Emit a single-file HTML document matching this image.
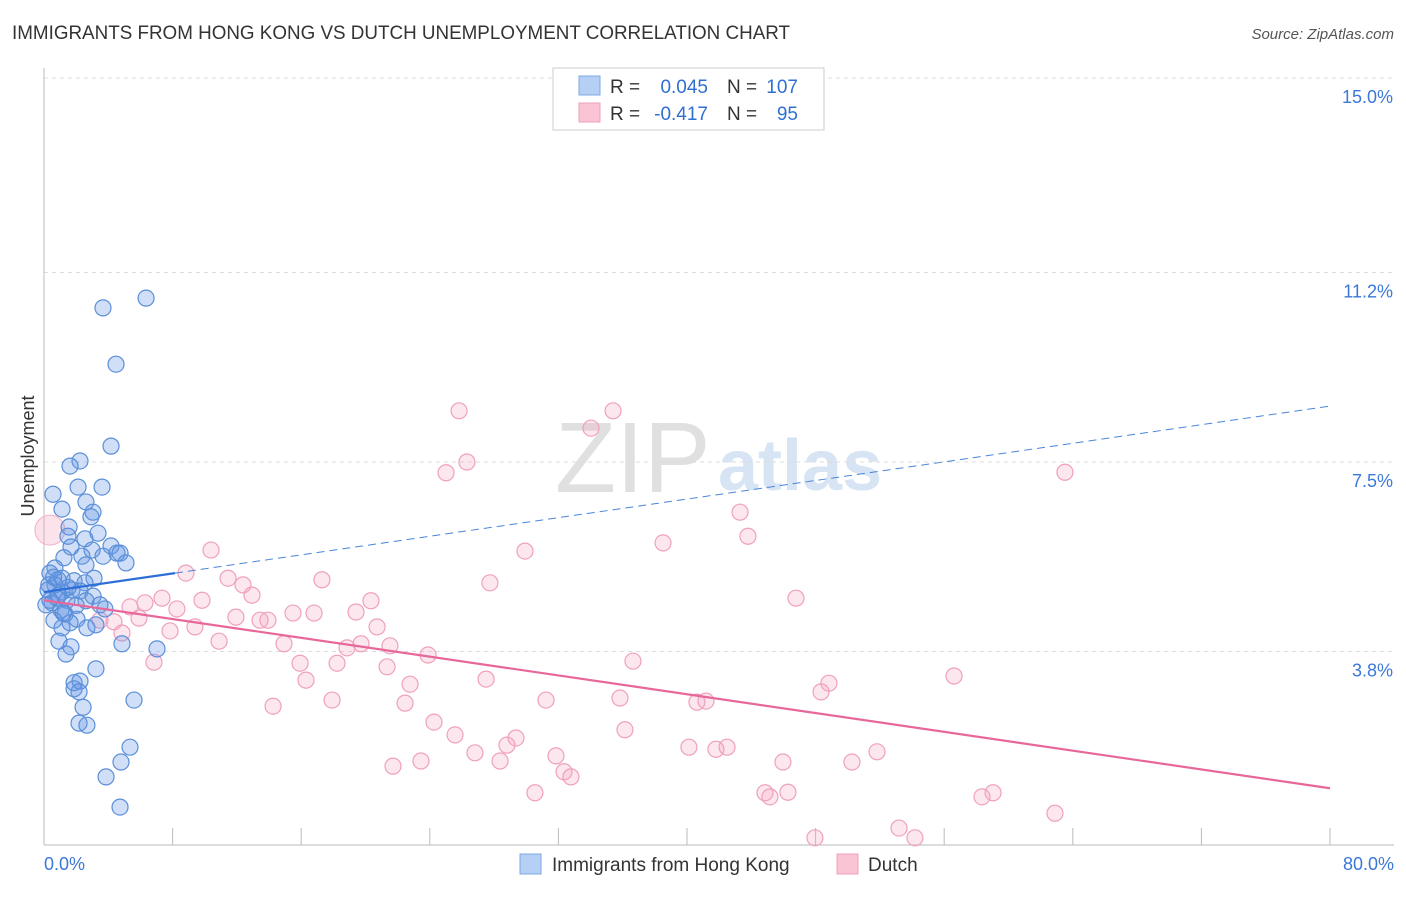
<!DOCTYPE html>
<html><head><meta charset="utf-8"><style>
body{margin:0;background:#fff;font-family:"Liberation Sans",sans-serif;}
svg text{font-family:"Liberation Sans",sans-serif;}
</style></head><body>
<svg id="chart" width="1406" height="892" viewBox="0 0 1406 892" xmlns="http://www.w3.org/2000/svg">
<text x="12" y="39" font-size="19" fill="#333" textLength="778" lengthAdjust="spacingAndGlyphs">IMMIGRANTS FROM HONG KONG VS DUTCH UNEMPLOYMENT CORRELATION CHART</text>
<text x="1394" y="39" font-size="15" fill="#555" font-style="italic" text-anchor="end">Source: ZipAtlas.com</text>
<text x="555" y="492" font-size="100" fill="#e0e0e0" font-family="Liberation Serif">ZIP</text>
<text x="718" y="490" font-size="72" fill="#d6e4f4" font-weight="bold">atlas</text>
<g id="grid"></g>
<g id="axes"></g>
<g id="pts"></g>
<g id="lines"></g>
<g>
<rect x="553" y="68" width="271" height="62" fill="#fff" stroke="#ccc"/>
<rect x="579" y="76" width="21" height="19" fill="#b6d0f5" stroke="#7fa8e0"/>
<rect x="579" y="103" width="21" height="19" fill="#fac4d4" stroke="#eea0ba"/>
<text x="610" y="93" font-size="19" fill="#333">R =</text>
<text x="708" y="93" font-size="19" fill="#2f6fd0" text-anchor="end">0.045</text>
<text x="727" y="93" font-size="19" fill="#333">N =</text>
<text x="798" y="93" font-size="19" fill="#2f6fd0" text-anchor="end">107</text>
<text x="610" y="120" font-size="19" fill="#333">R =</text>
<text x="708" y="120" font-size="19" fill="#2f6fd0" text-anchor="end">-0.417</text>
<text x="727" y="120" font-size="19" fill="#333">N =</text>
<text x="798" y="120" font-size="19" fill="#2f6fd0" text-anchor="end">95</text>
</g>
<g>
<rect x="520" y="854" width="21" height="20" fill="#b6d0f5" stroke="#7fa8e0"/>
<text x="552" y="871" font-size="19" fill="#333">Immigrants from Hong Kong</text>
<rect x="837" y="854" width="21" height="20" fill="#fac4d4" stroke="#eea0ba"/>
<text x="868" y="871" font-size="19" fill="#333">Dutch</text>
</g>
<text transform="translate(34,456) rotate(-90)" font-size="18" fill="#333" text-anchor="middle">Unemployment</text>
</svg>
<script>
const yTicks=[15.0,11.2,7.5,3.8];
const yTickLabels=["15.0%","11.2%","7.5%","3.8%"];
const xTickLabels=["0.0%","80.0%"];
const blueX=[6.35,3.67,4.48,4.17,2.24,1.62,0.56,3.61,2.12,2.61,1.12,3.05,2.92,1.56,3.36,1.49,2.55,4.17,2.99,1.68,1.24,2.36,3.67,4.54,4.73,5.10,2.61,0.68,0.37,1.12,3.11,1.87,2.55,0.68,0.25,1.12,1.74,2.24,3.05,0.81,1.43,2.61,3.48,3.79,0.5,1.06,1.31,2.05,1.62,2.67,1.12,3.23,0.93,1.68,1.37,4.85,7.03,3.23,1.87,2.24,1.87,2.18,5.6,2.43,2.18,2.67,5.35,4.79,3.86,4.73,0.37,0.12,0.62,0.87,0.3,0.9,1.5,0.6,2.0,1.2];
const blueY=[10.70,10.51,9.41,7.81,7.52,7.42,6.87,7.01,7.01,6.72,6.58,6.52,6.43,6.23,6.11,6.05,6.0,5.86,5.78,5.84,5.63,5.66,5.66,5.72,5.72,5.53,5.49,5.43,5.33,5.23,5.23,5.18,5.14,5.10,5.0,4.96,5.0,4.98,4.88,4.84,4.80,4.79,4.71,4.63,4.75,4.61,4.53,4.43,4.36,4.26,4.26,4.32,4.0,3.89,3.75,3.95,3.85,3.46,3.19,3.22,3.07,3.01,2.85,2.71,2.40,2.36,1.93,1.64,1.35,0.76,4.80,4.71,4.41,5.2,5.1,4.9,5.05,5.25,4.7,4.55];
const pinkX=[25.82,35.40,34.03,26.31,25.01,63.51,43.30,43.79,38.51,29.92,10.39,8.83,11.45,12.38,17.29,27.74,12.94,7.34,9.83,6.28,5.35,8.27,20.34,46.78,19.41,15.49,16.80,11.94,13.44,13.93,5.91,4.35,3.48,7.84,9.39,20.72,4.85,10.89,14.93,19.72,18.85,21.52,23.89,6.84,15.93,18.23,21.34,36.64,16.30,27.50,22.77,48.83,56.61,48.34,14.25,17.92,22.46,31.23,35.83,40.62,41.18,24.26,36.14,25.57,29.36,28.80,40.12,41.80,42.49,51.82,26.81,31.85,28.37,45.97,50.26,21.71,23.45,32.35,32.78,30.54,44.85,46.28,45.16,58.35,59.04,62.89,47.96,53.19,54.18];
const pinkY=[8.50,8.50,8.16,7.50,7.29,7.30,6.52,6.05,5.92,5.76,5.78,5.33,5.23,5.10,5.20,5.14,4.90,4.84,4.80,4.75,4.67,4.63,4.79,4.84,4.57,4.55,4.55,4.47,4.41,4.41,4.45,4.38,4.41,4.20,4.28,4.28,4.16,4.00,3.95,3.95,3.87,3.91,3.73,3.59,3.57,3.57,3.50,3.61,3.24,3.26,3.16,3.18,3.32,3.01,2.73,2.85,2.79,2.85,2.89,2.81,2.83,2.42,2.27,2.17,2.11,1.97,1.93,1.89,1.93,1.84,1.82,1.76,1.66,1.64,1.64,1.56,1.66,1.45,1.35,1.04,1.04,1.05,0.96,0.96,1.04,0.64,0.16,0.35,0.16];
const bigPink=[0.37,6.17];
const blueFit=[4.96,0.0454];
const pinkFit=[4.80,-0.0459];
const NS="http://www.w3.org/2000/svg";
const xs=v=>44+v*16.075, ys=v=>78+(15-v)*51.2;
function mk(t,a,p){const e=document.createElementNS(NS,t);for(const k in a)e.setAttribute(k,a[k]);document.getElementById(p).appendChild(e);return e;}
yTicks.forEach((t,i)=>{
 const l=mk('line',{x1:44,x2:1394,y1:ys(t),y2:ys(t),stroke:'#ddd','stroke-dasharray':'4,4'},'grid');
 
 
 const tx=mk('text',{x:1393,y:ys(t)+25,'font-size':18,fill:'#3b78d8','text-anchor':'end'},'axes');
 tx.textContent=yTickLabels[i];
 
 
});
mk('line',{x1:44,x2:44,y1:68,y2:845,stroke:'#bbb'},'axes');
mk('line',{x1:44,x2:1394,y1:845,y2:845,stroke:'#bbb'},'axes');
for(let i=1;i<=10;i++){const t=mk('line',{x1:xs(i*8),x2:xs(i*8),y1:828,y2:845,stroke:'#bbb'},'axes');
 
 }
[[0,'start',44],[80,'end',1394]].forEach((d,i)=>{const t=mk('text',{x:d[2],y:870,'font-size':18,fill:'#3b78d8','text-anchor':d[1]},'axes');t.textContent=xTickLabels[i];
 
 });
const bp=mk('circle',{cx:xs(bigPink[0]),cy:ys(bigPink[1]),r:15,fill:'rgba(245,160,190,0.3)',stroke:'#f2b0c6'},'pts');


pinkX.forEach((x,i)=>{const c=mk('circle',{cx:xs(x),cy:ys(pinkY[i]),r:8,fill:'rgba(245,160,190,0.25)',stroke:'#f0a0bc','stroke-width':1.2},'pts');
 
 });
blueX.forEach((x,i)=>{const c=mk('circle',{cx:xs(x),cy:ys(blueY[i]),r:8,fill:'rgba(100,150,230,0.3)',stroke:'#5a8fd8','stroke-width':1.2},'pts');
 
 });
const b1=mk('line',{x1:xs(0),y1:ys(blueFit[0]),x2:xs(8.15),y2:ys(blueFit[0]+blueFit[1]*8.15),stroke:'#2c6fd6','stroke-width':2.2},'lines');


const b2=mk('line',{x1:xs(8.15),y1:ys(blueFit[0]+blueFit[1]*8.15),x2:xs(80),y2:ys(blueFit[0]+blueFit[1]*80),stroke:'#4a85d8','stroke-width':1,'stroke-dasharray':'8,5'},'lines');


const p1=mk('line',{x1:xs(0),y1:ys(pinkFit[0]),x2:xs(80),y2:ys(pinkFit[0]+pinkFit[1]*80),stroke:'#e8679a','stroke-width':2.2},'lines');


</script>
</body></html>
